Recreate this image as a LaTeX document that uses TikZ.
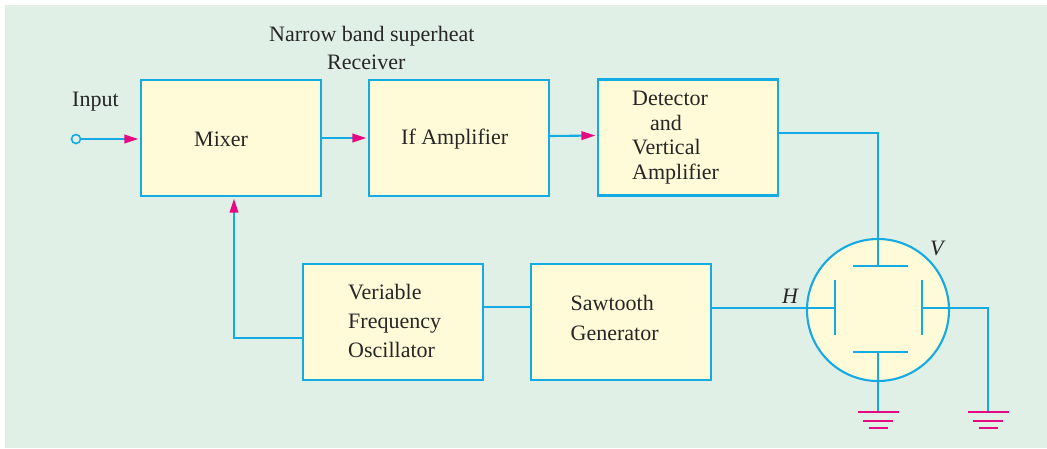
\documentclass[tikz,border=0pt]{standalone}
\usepackage{fontspec}
\setmainfont{Liberation Serif}
\usetikzlibrary{arrows.meta}
\definecolor{bgc}{RGB}{225,240,230}
\definecolor{boxc}{RGB}{255,250,215}
\definecolor{wirec}{RGB}{20,170,228}
\definecolor{tipc}{RGB}{230,10,130}
\tikzset{
  blk/.style={draw=wirec, fill=boxc, line width=2.1pt, minimum width=180pt, minimum height=116pt, inner sep=0pt},
  wire/.style={draw=wirec, line width=2.1pt},
  arr/.style={wire, shorten >=1.5pt, -{Triangle[length=14pt,width=8.5pt,color=tipc]}},
  lbl/.style={font=\fontsize{22}{24}\selectfont, text=black!85, inner sep=0pt},
  gndline/.style={draw=tipc, line width=2.5pt},
  gnd/.pic={\draw[gndline] (-20.5,0) -- (20.5,0) (-15,9) -- (15,9) (-9.5,16) -- (9.5,16);}
}
\begin{document}
\begin{tikzpicture}[x=1pt,y=-1pt]
\useasboundingbox (0,0) rectangle (1047,448);
\fill[white] (0,0) rectangle (1047,448);
\fill[bgc] (5,5) rectangle (1047,448);
% blocks
\node[blk] (mixer) at (231,138) {};
\node[blk] (ifamp) at (459,138) {};
\node[blk] (det) at (688,137.5) {};
\node[blk] (vfo) at (393,322) {};
\node[blk] (saw) at (621,322) {};
% texts
\node[lbl, anchor=base west] (title1) at (269,41) {Narrow band superheat};
\node[lbl, anchor=base west] (title2) at (327,69) {Receiver};
\node[lbl, anchor=base west] (inlbl) at (72,106) {Input};
\node[lbl, anchor=base west] (mixt) at (194,146.5) {Mixer};
\node[lbl, anchor=base west] (ift) at (401,144) {If Amplifier};
\node[lbl, anchor=west, align=left, font=\fontsize{22}{24.5}\selectfont] (dett) at (632,137.5) {Detector\\\hspace*{18pt}and\\Vertical\\Amplifier};
\node[lbl, anchor=west, align=left, font=\fontsize{22}{29}\selectfont] (vfot) at (348,320.7) {Veriable\\Frequency\\Oscillator};
\node[lbl, anchor=west, align=left, font=\fontsize{22}{30}\selectfont] (sawt) at (570.5,318) {Sawtooth\\Generator};
% CRT
\node[circle, draw=wirec, fill=boxc, line width=2.1pt, minimum size=142pt, inner sep=0pt] (crt) at (878,310) {};
\coordinate (tp) at (878,266);
\coordinate (bp) at (878,352);
\coordinate (lp) at (835,308);
\coordinate (rp) at (922,308);
\coordinate (g1) at (878,412);
\coordinate (g2) at (988,412);
\coordinate (inp) at (76,139);
\draw[wire] (853,266) -- (908,266);
\draw[wire] (853,352) -- (908,352);
\draw[wire] (835,280) -- (835,335);
\draw[wire] (922,280) -- (922,335);
\node[lbl, anchor=base west, font=\fontsize{22}{24}\selectfont\itshape] (hl) at (782,303) {H};
\node[lbl, anchor=base west, font=\fontsize{22}{24}\selectfont\itshape] (vl) at (930,255) {V};
% connectors
\node[circle, draw=wirec, fill=bgc, line width=1.6pt, minimum size=9pt, inner sep=0pt] (in) at (inp) {};
\draw[arr] (in.east) -- (mixer.west |- in.east);
\draw[arr] (mixer.east) -- (ifamp.west);
\draw[arr] ([yshift=2pt]ifamp.east) -- ([yshift=2pt]det.west);
\draw[wire] ([yshift=4.5pt]det.east) -| (tp);
\draw[wire] (bp) -- (g1);
\draw[wire] ([yshift=14pt]saw.east) -- (lp);
\draw[wire] (rp) -| (g2);
\draw[wire] ([yshift=15pt]vfo.east) -- ([yshift=15pt]saw.west);
\draw[arr] ([yshift=-16pt]vfo.west) -| ([xshift=3pt]mixer.south);
\pic at (g1) {gnd};
\pic at (g2) {gnd};
\end{tikzpicture}
\end{document}
